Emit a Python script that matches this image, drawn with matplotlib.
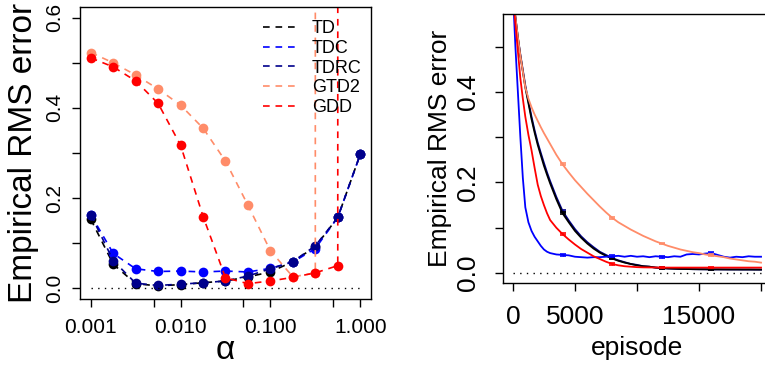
import numpy as np
import matplotlib
matplotlib.use("Agg")
import matplotlib.pyplot as plt
from matplotlib.lines import Line2D

plt.rcParams['font.family'] = ['Liberation Sans', 'DejaVu Sans']

# ---- left panel: final error vs step size alpha ----
alpha = [0.001, 0.00178, 0.00316, 0.00562, 0.01, 0.0178, 0.0316, 0.0562,
         0.1, 0.178, 0.316, 0.562, 1.0]
alpha_ticks = [0.001, 0.005, 0.01, 0.05, 0.1, 0.5, 1.0]
alpha_labels = ['0.001', '', '0.010', '', '0.100', '', '1.000']

td_a = [0.153, 0.053, 0.010, 0.005, 0.008, 0.012, 0.016, 0.025, 0.036, 0.059, 0.092, 0.157, 0.297]
tdc_a = [0.163, 0.077, 0.043, 0.037, 0.038, 0.036, 0.038, 0.036, 0.044, 0.058, 0.088, 0.157, 0.297]
tdrc_a = [0.163, 0.061, 0.011, 0.006, 0.009, 0.012, 0.016, 0.027, 0.043, 0.059, 0.094, 0.157, 0.297]
# 1000 = diverged (off the chart)
gtd2_a = [0.523, 0.500, 0.473, 0.442, 0.406, 0.355, 0.282, 0.184, 0.083, 0.025, 0.034, 1000, 1000]
gdd_a = [0.511, 0.491, 0.460, 0.410, 0.317, 0.159, 0.023, 0.010, 0.016, 0.024, 0.034, 0.050, 1000]

# ---- right panel: learning curves ----
episode = [0, 200, 400, 600, 800, 1000, 1250, 1500, 1750, 2000, 2250, 2500, 2750, 3000,
           3500, 4000, 4500, 5000, 5500, 6000, 6500, 7000, 7500, 8000, 8500, 9000, 9500,
           10000, 10500, 11000, 11500, 12000, 12500, 13000, 13500, 14000, 14500, 15000,
           15500, 16000, 16500, 17000, 17500, 18000, 18500, 19000, 19500, 20000]

td_e = [0.61, 0.565, 0.52, 0.48, 0.445, 0.41, 0.375, 0.34, 0.31, 0.283, 0.26, 0.237, 0.217, 0.198,
        0.163, 0.132, 0.112, 0.093, 0.078, 0.065, 0.054, 0.045, 0.038, 0.032, 0.027, 0.023, 0.020,
        0.017, 0.015, 0.014, 0.012, 0.011, 0.010, 0.0095, 0.009, 0.0088, 0.0085, 0.0083,
        0.0082, 0.008, 0.008, 0.0079, 0.0078, 0.0078, 0.0077, 0.0077, 0.0076, 0.0075]
tdc_e = [0.62, 0.50, 0.40, 0.30, 0.21, 0.145, 0.112, 0.093, 0.080, 0.070, 0.060, 0.052, 0.047, 0.044,
         0.041, 0.040, 0.039, 0.036, 0.035, 0.034, 0.035, 0.035, 0.036, 0.037, 0.038, 0.036, 0.038,
         0.036, 0.037, 0.035, 0.037, 0.036, 0.035, 0.037, 0.036, 0.041, 0.042, 0.041,
         0.043, 0.044, 0.040, 0.036, 0.034, 0.036, 0.035, 0.037, 0.036, 0.036]
tdrc_e = [0.61, 0.565, 0.52, 0.482, 0.448, 0.414, 0.379, 0.345, 0.315, 0.288, 0.265, 0.243, 0.222, 0.203,
          0.168, 0.137, 0.116, 0.097, 0.081, 0.068, 0.057, 0.047, 0.040, 0.033, 0.028, 0.024, 0.020,
          0.018, 0.015, 0.014, 0.012, 0.011, 0.010, 0.0095, 0.009, 0.0088, 0.0085, 0.0083,
          0.0082, 0.008, 0.008, 0.0079, 0.0078, 0.0078, 0.0077, 0.0077, 0.0076, 0.0075]
gtd2_e = [0.61, 0.565, 0.52, 0.48, 0.445, 0.41, 0.385, 0.366, 0.350, 0.336, 0.322, 0.309, 0.297, 0.285,
          0.261, 0.240, 0.222, 0.205, 0.190, 0.175, 0.161, 0.147, 0.134, 0.122, 0.112, 0.104, 0.096,
          0.089, 0.082, 0.076, 0.070, 0.065, 0.060, 0.056, 0.052, 0.049, 0.046, 0.044,
          0.041, 0.039, 0.037, 0.035, 0.032, 0.030, 0.028, 0.026, 0.025, 0.023]
gdd_e = [0.61, 0.55, 0.49, 0.43, 0.385, 0.345, 0.305, 0.271, 0.232, 0.195, 0.17, 0.15, 0.132, 0.117,
         0.100, 0.086, 0.074, 0.063, 0.053, 0.045, 0.037, 0.031, 0.025, 0.020, 0.017, 0.015, 0.014,
         0.013, 0.0125, 0.0123, 0.0122, 0.012, 0.012, 0.012, 0.012, 0.012, 0.012, 0.012,
         0.012, 0.012, 0.012, 0.012, 0.012, 0.012, 0.012, 0.012, 0.012, 0.012]
bar_episodes = [4000, 8000, 12000, 16000]

names = ['TD', 'TDC', 'TDRC', 'GTD2', 'GDD']
colors = ['black', '#0000FF', '#00008B', '#FF8C69', '#FF0000']

fig = plt.figure(figsize=(7.65, 3.66), dpi=100)

# left plot
ax1 = fig.add_axes([0.1046, 0.1831, 0.3804, 0.7978])
dash = (0, (4, 3.5))
for vals, name, c in zip([td_a, tdc_a, tdrc_a, gtd2_a, gdd_a], names, colors):
    ax1.plot(alpha, vals, color=c, ls=dash, lw=1.2, marker='o', ms=7,
             markeredgewidth=0)
ax1.plot([alpha[0], alpha[-1]], [0, 0], color='black', lw=1.0, ls=(0, (1, 3.8)))
ax1.set_xscale('log')
ax1.set_xlim(10 ** -3.12, 10 ** 0.12)
ax1.set_ylim(-0.024, 0.624)
ax1.set_xticks(alpha_ticks)
ax1.set_xticklabels(alpha_labels)
ax1.xaxis.set_minor_locator(matplotlib.ticker.NullLocator())
ax1.set_yticks([0, 0.1, 0.2, 0.3, 0.4, 0.5, 0.6])
ax1.set_yticklabels(['0.0', '', '0.2', '', '0.4', '', '0.6'])
ax1.tick_params(axis='both', direction='out', length=5.8, width=1, labelsize=15)
ax1.tick_params(axis='x', pad=8)
ax1.tick_params(axis='y', pad=6)
for lab in ax1.get_yticklabels():
    lab.set_rotation(90)
    lab.set_va('center')
ax1.set_ylabel('Empirical RMS error', fontsize=24, va='center')
ax1.yaxis.set_label_coords(-0.194, 0.5)
ax1.set_xlabel('α', fontsize=24, va='center')
ax1.xaxis.set_label_coords(0.5, -0.175)
handles = [Line2D([], [], color=c, ls=dash, lw=1.2) for c in colors]
ax1.legend(handles, names, loc='upper left', bbox_to_anchor=(0.629, 0.955), frameon=False,
           fontsize=13, borderpad=0, borderaxespad=0, handlelength=1.8,
           handletextpad=0.9, labelspacing=0.15)
for s in ax1.spines.values():
    s.set_linewidth(1)

# right plot (extends past the right edge of the figure)
ax2 = fig.add_axes([0.6575, 0.2268, 0.3503, 0.7350])
# TD drawn over TDRC, as in the original
order = [2, 0, 1, 3, 4]
series_e = [td_e, tdc_e, tdrc_e, gtd2_e, gdd_e]
idx = [episode.index(e) for e in bar_episodes]
for k in order:
    vals, c = series_e[k], colors[k]
    ax2.plot(episode, vals, color=c, lw=1.3)
    ax2.errorbar(bar_episodes, [vals[i] for i in idx], yerr=0.002, fmt='none',
                 ecolor=c, elinewidth=1.0, capsize=2.5, capthick=1.2)
ax2.plot([0, 20000], [0, 0], color='black', lw=1.0, ls=(0, (1, 3.8)))
ax2.set_xlim(-800, 20800)
ax2.set_ylim(-0.022, 0.572)
ax2.set_xticks([0, 5000, 10000, 15000, 20000])
ax2.set_xticklabels(['0', '5000', '', '15000', ''])
ax2.set_yticks([0, 0.1, 0.2, 0.3, 0.4, 0.5])
ax2.set_yticklabels(['0.0', '', '0.2', '', '0.4', ''])
ax2.tick_params(axis='both', direction='out', length=5.8, width=1, labelsize=19)
ax2.tick_params(axis='x', pad=10)
ax2.tick_params(axis='y', pad=11)
for lab in ax2.get_yticklabels():
    lab.set_rotation(90)
    lab.set_va('center')
ax2.set_ylabel('Empirical RMS error', fontsize=19, va='center')
ax2.yaxis.set_label_coords(-0.235, 0.5)
ax2.set_xlabel('episode', fontsize=19, va='center')
ax2.xaxis.set_label_coords(0.5, -0.24)
for s in ax2.spines.values():
    s.set_linewidth(1)

fig.savefig('out.png', dpi=100)
